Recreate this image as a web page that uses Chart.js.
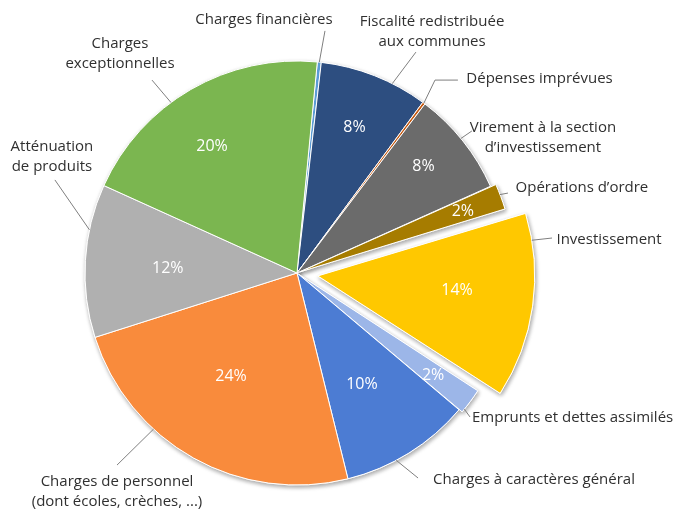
<!DOCTYPE html>
<html><head><meta charset="utf-8">
<script src="https://cdn.jsdelivr.net/npm/chart.js@4/dist/chart.umd.min.js"></script>
<style>html,body{margin:0;padding:0;background:#fff}#wrap{width:673px;height:511px}</style>
</head><body><div id="wrap"><canvas id="c" width="673" height="511"></canvas></div>
<script>
// Categories (clockwise from the top), with line breaks as in the labels
const categories = [
  'Charges financières',
  'Fiscalité redistribuée\naux communes',
  'Dépenses imprévues',
  'Virement à la section\nd\u2019investissement',
  'Opérations d\u2019ordre',
  'Investissement',
  'Emprunts et dettes assimilés',
  'Charges à caractères général',
  'Charges de personnel\n(dont écoles, crèches, ...)',
  'Atténuation\nde produits',
  'Charges\nexceptionnelles'
];
// Share of the budget (%)
const shares = [0.3, 8.3, 0.2, 8.0, 2.0, 13.9, 2.0, 10.0, 24.0, 11.7, 19.8];
const colors = ['#5B9BD5', '#2D4E80', '#C55A11', '#6B6B6B', '#A67C00', '#FFC800',
                '#9CB6E8', '#4C7CD3', '#F98B3C', '#B0B0B0', '#7BB650'];
const explodePx = [0, 0, 0, 0, 3, 21, 2, 0, 0, 0, 0];

// label layout: t = text centre, pts = leader end points (in radii from pie centre),
// at = leader start position across the slice, pr/pa = percentage label radius / angle tweak
const layout = [
  {t:[-0.156,-1.193], at:0.5,  pts:[[0.132,-1.142]], pr:0.7, pa:0},
  {t:[0.637,-1.139],  at:0.675,pts:[[0.561,-1.042]], pr:0.74, pa:0},
  {t:[1.144,-0.915],  at:0.5,  pts:[[0.651,-0.910],[0.759,-0.910]], pr:0.7, pa:0},
  {t:[1.160,-0.639],  at:0.47, pts:[[0.825,-0.670]], pr:0.78, pa:-1.6},
  {t:[1.344,-0.401],  at:0.42, pts:[[0.995,-0.377]], pr:0.82, pa:0.3},
  {t:[1.472,-0.156],  at:0.15, pts:[[1.203,-0.165]], pr:0.66, pa:-2.2},
  {t:[1.300,0.684],   at:0.86, pts:[[0.816,0.679]],  pr:0.795, pa:0.5},
  {t:[1.118,0.976],   at:0.61, pts:[[0.571,0.967]],  pr:0.61, pa:1.7},
  {t:[-0.849,1.033],  at:0.655,pts:[[-0.849,0.906]], pr:0.577, pa:3.4},
  {t:[-1.156,-0.547], at:0.70, pts:[[-1.142,-0.439]],pr:0.61, pa:-1.5},
  {t:[-0.835,-1.033], at:0.41, pts:[[-0.684,-0.910]],pr:0.717, pa:-3.9}
];

const shadowPass = {
  id: 'shadowPass',
  beforeDatasetsDraw(chart) {
    const ctx = chart.ctx;
    const meta = chart.getDatasetMeta(0);
    ctx.save();
    ctx.shadowColor = 'rgba(0,0,0,0.35)';
    ctx.shadowBlur = 4;
    ctx.shadowOffsetX = 1;
    ctx.shadowOffsetY = 2;
    meta.data.forEach(a => a.draw(ctx));
    ctx.restore();
  }
};

const callouts = {
  id: 'callouts',
  afterDatasetsDraw(chart, args, opts) {
    const ctx = chart.ctx;
    const arcs = chart.getDatasetMeta(0).data;
    const data = chart.data.datasets[0].data;
    const total = data.reduce((a, b) => a + b, 0);
    const cx = arcs[0].x, cy = arcs[0].y, R = arcs[0].outerRadius;
    ctx.save();
    arcs.forEach((arc, i) => {
      const s = arc.startAngle, e = arc.endAngle;
      const mid = (s + e) / 2;
      const o = (arc.options.offset || 0) / 4;
      const fix = 1 - Math.sin(Math.min(Math.PI, e - s));
      const sx = cx + Math.cos(mid) * o, sy = cy + Math.sin(mid) * o;
      const outR = R + o * fix;
      const L = layout[i];
      // leader line
      const a = s + (e - s) * L.at;
      ctx.beginPath();
      ctx.moveTo(sx + Math.cos(a) * outR, sy + Math.sin(a) * outR);
      L.pts.forEach(p => ctx.lineTo(cx + p[0] * R, cy + p[1] * R));
      ctx.strokeStyle = opts.lineColor; ctx.lineWidth = 1; ctx.stroke();
      // category label
      const lines = chart.data.labels[i].split('\n');
      ctx.font = opts.font; ctx.fillStyle = opts.color;
      ctx.textAlign = 'center'; ctx.textBaseline = 'middle';
      const tx = cx + L.t[0] * R, ty = cy + L.t[1] * R;
      lines.forEach((ln, k) => ctx.fillText(ln, tx, ty + (k - (lines.length - 1) / 2) * opts.lineHeight));
      // percentage
      const pct = Math.round(data[i] / total * 100);
      if (pct >= 1) {
        const pa = mid + L.pa * Math.PI / 180, pr = L.pr * R;
        ctx.font = opts.pctFont; ctx.fillStyle = '#ffffff';
        ctx.fillText(pct + '%', sx + Math.cos(pa) * pr, sy + Math.sin(pa) * pr);
      }
    });
    ctx.restore();
  }
};

new Chart(document.getElementById('c'), {
  type: 'pie',
  data: {
    labels: categories,
    datasets: [{
      data: shares,
      backgroundColor: colors,
      borderColor: '#ffffff',
      borderWidth: 1,
      radius: 212,
      offset: (c) => 4 * explodePx[c.dataIndex]
    }]
  },
  options: {
    responsive: false,
    devicePixelRatio: 1,
    animation: false,
    rotation: 5.5,
    layout: { padding: { left: 10, right: 89, top: 40, bottom: 5 } },
    plugins: {
      legend: { display: false },
      tooltip: { enabled: false },
      callouts: {
        font: '15px "Open Sans"',
        pctFont: '16px "Open Sans"',
        color: '#303030',
        lineColor: '#7f7f7f',
        lineHeight: 20
      }
    }
  },
  plugins: [shadowPass, callouts]
});
</script>
</body></html>
